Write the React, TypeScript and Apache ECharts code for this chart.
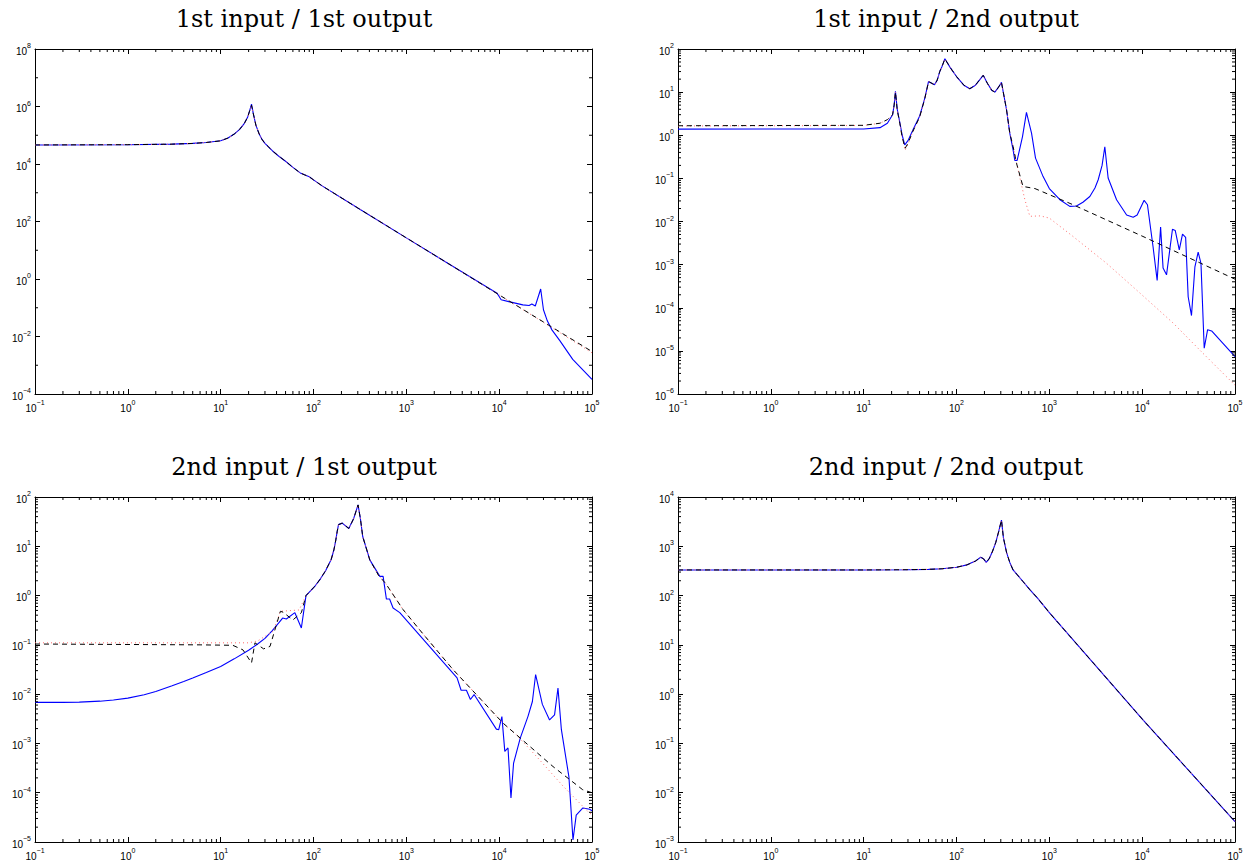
import React, { useEffect, useRef } from 'react';
import * as echarts from 'echarts';

// ---------- titles ----------
const titles = ['1st input / 1st output', '1st input / 2nd output', '2nd input / 1st output', '2nd input / 2nd output'];

// ---------- axis ranges ----------
const xRange = [0.1, 1e5];
const yRanges = [[1e-4, 1e8], [1e-6, 1e2], [1e-5, 1e2], [1e-3, 1e4]];
const yIntervals = [2, 1, 1, 1];

// ---------- panel 1: 1st input / 1st output ----------
const p1BlueF = [0.1, 1, 3, 5, 7, 10, 12, 14, 16, 18, 19.5, 20.5, 21.5, 22.5, 24, 26, 28, 30, 36, 42, 50, 60, 72, 80, 90, 100, 125, 300, 1000, 3000, 9500, 10500, 13000, 18000, 21000, 22500, 24500, 28000, 30000, 33000, 37000, 45000, 62000, 100000];
const p1BlueV = [4.6e4, 4.7e4, 4.9e4, 5.2e4, 5.6e4, 6.4e4, 8.0e4, 1.1e5, 1.6e5, 2.6e5, 4.2e5, 7.0e5, 1.2e6, 5.5e5, 2.2e5, 1.1e5, 7.0e4, 5.2e4, 2.9e4, 1.9e4, 1.25e4, 7.6e3, 4.9e3, 4.2e3, 3.6e3, 2.8e3, 1.7e3, 295, 27, 3.07, 0.32, 0.19, 0.16, 0.126, 0.12, 0.135, 0.115, 0.45, 0.085, 0.035, 0.017, 0.0072, 0.0016, 3.2e-4];
const p1BlackF = [0.1, 1, 3, 5, 7, 10, 12, 14, 16, 18, 19.5, 20.5, 21.5, 22.5, 24, 26, 28, 30, 36, 42, 50, 60, 72, 80, 90, 100, 125, 300, 1000, 3000, 10000, 30000, 100000];
const p1BlackV = [4.6e4, 4.7e4, 4.9e4, 5.2e4, 5.6e4, 6.4e4, 8.0e4, 1.1e5, 1.6e5, 2.6e5, 4.2e5, 7.0e5, 1.1e6, 5.5e5, 2.2e5, 1.1e5, 7.0e4, 5.2e4, 2.9e4, 1.9e4, 1.25e4, 7.6e3, 4.9e3, 4.2e3, 3.6e3, 2.8e3, 1.7e3, 295, 27, 3.07, 0.28, 0.032, 3.0e-3];
const p1RedF = [0.1, 1, 3, 5, 7, 10, 12, 14, 16, 18, 19.5, 20.5, 21.5, 22.5, 24, 26, 28, 30, 36, 42, 50, 60, 72, 80, 90, 100, 125, 300, 1000, 3000, 10000, 30000, 100000];
const p1RedV = [4.6e4, 4.7e4, 4.9e4, 5.2e4, 5.6e4, 6.4e4, 8.0e4, 1.1e5, 1.6e5, 2.6e5, 4.2e5, 7.0e5, 1.1e6, 5.5e5, 2.2e5, 1.1e5, 7.0e4, 5.2e4, 2.9e4, 1.9e4, 1.25e4, 7.6e3, 4.9e3, 4.2e3, 3.6e3, 2.8e3, 1.7e3, 295, 27, 3.07, 0.28, 0.031, 2.7e-3];

// ---------- panel 2: 1st input / 2nd output ----------
const p2BlueF = [0.1, 10, 15, 18, 20.5, 21.3, 22, 23, 24.5, 26, 27.7, 30, 34, 40, 45.5, 50, 58, 62, 66, 70, 75, 85, 100, 120, 139, 160, 180, 194, 215, 240, 259, 280, 305, 346, 375, 407, 425, 450, 514, 567, 643, 710, 857, 1000, 1300, 1660, 1960, 2300, 2730, 3100, 3360, 3700, 3960, 4300, 5300, 6800, 8000, 8830, 10500, 11400, 13100, 14500, 15800, 16800, 18300, 21200, 22700, 25100, 27200, 29400, 31300, 34000, 37000, 40100, 43000, 46600, 50700, 56000, 100000];
const p2BlueV = [1.39, 1.4, 1.5, 1.9, 3.0, 5.0, 10.4, 4.0, 2.0, 1.0, 0.6, 0.75, 1.34, 2.75, 7.2, 17.7, 14.8, 19, 30, 40, 59.6, 38, 23, 14.5, 12, 14.5, 20, 24.5, 16, 11, 10, 12.5, 16.8, 3.9, 1.12, 0.46, 0.26, 0.26, 0.93, 3.4, 1.12, 0.295, 0.11, 0.058, 0.032, 0.0224, 0.0229, 0.028, 0.038, 0.06, 0.093, 0.2, 0.54, 0.102, 0.032, 0.0141, 0.0126, 0.0141, 0.031, 0.0245, 0.0026, 4.3e-4, 0.0074, 8.3e-4, 5.8e-4, 0.0066, 0.0062, 0.0022, 0.0051, 0.0043, 1.8e-4, 6.6e-5, 8.9e-4, 0.00195, 0.00107, 1.15e-5, 3.1e-5, 2.9e-5, 7.4e-6];
const p2BlackF = [0.1, 10, 15, 18, 20.5, 21.3, 22, 23, 24.5, 26, 28, 30, 34, 40, 45.5, 50, 58, 62, 66, 70, 75, 85, 100, 120, 139, 160, 180, 194, 215, 240, 259, 280, 305, 346, 375, 407, 444, 520, 700, 1800, 10200, 100000];
const p2BlackV = [1.66, 1.7, 1.9, 2.3, 3.0, 5.0, 10, 3.8, 1.9, 0.9, 0.5, 0.65, 1.25, 2.6, 7.0, 17.5, 14.8, 19, 30, 40, 59, 38, 23, 14.5, 12, 14.5, 20, 24.5, 16, 11, 10, 12.5, 16.8, 3.9, 1.12, 0.55, 0.22, 0.065, 0.058, 0.0245, 4.5e-3, 4.6e-4];
const p2RedF = [0.1, 10, 15, 18, 20.5, 21.3, 22, 23, 24.5, 26, 28, 30, 34, 40, 45.5, 50, 58, 62, 66, 70, 75, 85, 100, 120, 139, 160, 180, 194, 215, 240, 259, 280, 305, 346, 375, 407, 460, 545, 617, 800, 1000, 1800, 4140, 9440, 21600, 45400, 100000];
const p2RedV = [1.64, 1.68, 1.9, 2.3, 3.0, 5.0, 10, 3.8, 1.9, 0.9, 0.45, 0.62, 1.25, 2.6, 7.0, 17.5, 14.8, 19, 30, 40, 59, 38, 23, 14.5, 12, 14.5, 20, 24.5, 16, 11, 10, 12.5, 16.8, 3.9, 1.12, 0.55, 0.16, 0.032, 0.0132, 0.0135, 0.012, 4.5e-3, 1.07e-3, 2.2e-4, 4.4e-5, 8.7e-6, 1.6e-6];

// ---------- panel 3: 2nd input / 1st output ----------
const p3BlueF = [0.1, 0.2, 0.3, 0.5, 0.7, 1, 1.5, 2, 3, 4, 5, 7, 10, 14, 20, 25, 30, 36, 42, 46.5, 51, 63, 74, 83, 95, 105, 117, 135, 155, 166, 174, 180, 186, 204, 240, 270, 302, 321, 339, 404, 518, 562, 610, 660, 720, 850, 3520, 3890, 4440, 4900, 5370, 9330, 9890, 10700, 11500, 12450, 13400, 14300, 16900, 20400, 22800, 24700, 29200, 34900, 39500, 43000, 46800, 56400, 62400, 67600, 79800, 94200, 100000];
const p3BlueV = [6.8e-3, 6.8e-3, 6.9e-3, 7.2e-3, 7.6e-3, 8.3e-3, 9.7e-3, 0.0113, 0.0148, 0.018, 0.0212, 0.0275, 0.0365, 0.052, 0.078, 0.104, 0.135, 0.195, 0.275, 0.35, 0.335, 0.45, 0.22, 1.0, 1.3, 1.6, 2.1, 3.2, 5.4, 8.5, 13.5, 20, 27.5, 29.5, 23, 36, 69, 35, 15.8, 5.3, 2.45, 2.45, 0.85, 0.85, 0.56, 0.45, 0.0214, 0.012, 0.012, 7.8e-3, 9.8e-3, 1.95e-3, 1.9e-3, 3.5e-3, 6.9e-4, 8.1e-4, 7.8e-5, 4.0e-4, 1.3e-3, 3.5e-3, 7.1e-3, 0.025, 6.2e-3, 3.0e-3, 3.8e-3, 0.0133, 1.9e-3, 2.1e-4, 1.1e-5, 3.5e-5, 4.9e-5, 4.6e-5, 4.3e-5];
const p3BlackF = [0.1, 6, 13.5, 17.4, 21.5, 23.4, 29, 34, 44, 47, 60, 74, 83, 95, 105, 117, 135, 155, 166, 174, 180, 186, 204, 240, 270, 302, 321, 339, 404, 500, 600, 922, 1500, 3180, 10960, 38000, 79400, 100000];
const p3BlackV = [0.104, 0.1, 0.098, 0.079, 0.043, 0.11, 0.083, 0.093, 0.48, 0.46, 0.32, 0.45, 1.0, 1.3, 1.6, 2.1, 3.2, 5.4, 8.5, 13.5, 20, 27.5, 29.5, 23, 36, 69, 35, 15.8, 5.3, 2.6, 1.75, 0.52, 0.17, 0.0316, 2.6e-3, 3.4e-4, 1.15e-4, 1.0e-4];
const p3RedF = [0.1, 20, 25, 37, 44, 70, 83, 95, 105, 117, 135, 155, 166, 174, 180, 186, 204, 240, 270, 302, 321, 339, 404, 500, 600, 922, 1500, 3180, 10960, 15300, 25100, 49000, 93300, 100000];
const p3RedV = [0.11, 0.11, 0.12, 0.19, 0.48, 0.51, 1.0, 1.3, 1.6, 2.1, 3.2, 5.4, 8.5, 13.5, 20, 27.5, 29.5, 23, 36, 69, 35, 15.8, 5.3, 2.6, 1.75, 0.52, 0.17, 0.0316, 2.6e-3, 1.5e-3, 5.5e-4, 1.35e-4, 3.9e-5, 3.6e-5];

// ---------- panel 4: 2nd input / 2nd output ----------
const p4BlueF = [0.1, 10, 30, 50, 70, 100, 130, 160, 182, 195, 209, 225, 245, 265, 285, 305, 320, 346, 375, 407, 450, 520, 616, 750, 1000, 10200, 100000];
const p4BlueV = [331, 331, 335, 340, 350, 375, 420, 500, 600, 560, 470, 560, 800, 1200, 2000, 3400, 1500, 750, 470, 331, 266, 193, 132, 88, 45, 0.3, 2.6e-3];
const p4BlackF = [0.1, 10, 30, 50, 70, 100, 130, 160, 182, 195, 209, 225, 245, 265, 285, 305, 320, 346, 375, 407, 450, 520, 616, 750, 1000, 10200, 100000];
const p4BlackV = [331, 331, 335, 340, 350, 375, 420, 500, 600, 560, 470, 560, 800, 1200, 2000, 3400, 1500, 750, 470, 331, 266, 193, 132, 88, 45, 0.3, 2.6e-3];
const p4RedF = [0.1, 10, 30, 50, 70, 100, 130, 160, 182, 195, 209, 225, 245, 265, 285, 305, 320, 346, 375, 407, 450, 520, 616, 750, 1000, 10200, 100000];
const p4RedV = [331, 331, 335, 340, 350, 375, 420, 500, 600, 560, 470, 560, 800, 1200, 2000, 3400, 1500, 750, 470, 331, 266, 193, 132, 88, 45, 0.3, 2.6e-3];

const panels = [
  { blue: [p1BlueF, p1BlueV], black: [p1BlackF, p1BlackV], red: [p1RedF, p1RedV] },
  { blue: [p2BlueF, p2BlueV], black: [p2BlackF, p2BlackV], red: [p2RedF, p2RedV] },
  { blue: [p3BlueF, p3BlueV], black: [p3BlackF, p3BlackV], red: [p3RedF, p3RedV] },
  { blue: [p4BlueF, p4BlueV], black: [p4BlackF, p4BlackV], red: [p4RedF, p4RedV] },
];

// ---------- layout ----------
const gridBoxes = [
  { left: 35, top: 49, width: 557, height: 345 },
  { left: 678, top: 49, width: 557, height: 345 },
  { left: 35, top: 497, width: 557, height: 345 },
  { left: 678, top: 497, width: 557, height: 345 },
];
const titlePos = [[304, 19], [946, 19], [304, 467], [946, 467]];

const pairs = (f: number[], v: number[]) => f.map((x, i) => [x, v[i]]);

const labelFmt = (v: number) => {
  const e = Math.round(Math.log10(v));
  return `{b|10}{e|${e < 0 ? '\u2212' + -e : e}}`;
};
const rich = {
  b: { fontSize: 10, fontFamily: 'Liberation Sans, Arial, sans-serif', color: '#000', lineHeight: 14, verticalAlign: 'bottom' },
  e: { fontSize: 7, fontFamily: 'Liberation Sans, Arial, sans-serif', color: '#000', lineHeight: 8, verticalAlign: 'top' },
};

function decadeMinors(lo: number, hi: number) {
  const out: number[] = [];
  for (let d = lo; d < hi; d++) for (let m = 2; m <= 9; m++) out.push(m * Math.pow(10, d));
  return out;
}

export default function App() {
  const ref = useRef<HTMLDivElement>(null);
  useEffect(() => {
    if (!ref.current) return;
    const chart = echarts.init(ref.current, null, { renderer: 'svg' });
    const grid: any[] = [];
    const xAxis: any[] = [];
    const yAxis: any[] = [];
    const series: any[] = [];
    const graphic: any[] = [];
    const lineCol = '#000';
    for (let g = 0; g < 4; g++) {
      grid.push({ ...gridBoxes[g], containLabel: false });
      const [ymin, ymax] = yRanges[g];
      const [xmin, xmax] = xRange;
      const xBase = {
        type: 'log', logBase: 10, min: xmin, max: xmax, interval: 1, gridIndex: g,
        splitLine: { show: false },
        axisLine: { show: true, onZero: false, lineStyle: { color: lineCol, width: 1 } },
        axisTick: { show: true, inside: true, length: 5, lineStyle: { color: lineCol, width: 1 } },
      };
      xAxis.push({ ...xBase, position: 'bottom', axisLabel: { show: true, formatter: labelFmt, rich, margin: 5 } });
      xAxis.push({ ...xBase, position: 'top', axisLabel: { show: false } });
      const yBase = {
        type: 'log', logBase: 10, min: ymin, max: ymax, interval: yIntervals[g], gridIndex: g,
        splitLine: { show: false },
        axisLine: { show: true, onZero: false, lineStyle: { color: lineCol, width: 1 } },
        axisTick: { show: true, inside: true, length: 5, lineStyle: { color: lineCol, width: 1 } },
      };
      yAxis.push({ ...yBase, position: 'left', axisLabel: { show: true, formatter: labelFmt, rich, margin: 4 } });
      yAxis.push({ ...yBase, position: 'right', axisLabel: { show: false } });

      const p = panels[g];
      series.push({
        type: 'line', xAxisIndex: 2 * g, yAxisIndex: 2 * g, data: pairs(p.blue[0], p.blue[1]),
        showSymbol: false, symbol: 'none', lineStyle: { color: '#0000ff', width: 1.1 }, z: 2,
      });
      series.push({
        type: 'line', xAxisIndex: 2 * g, yAxisIndex: 2 * g, data: pairs(p.red[0], p.red[1]),
        showSymbol: false, symbol: 'none', lineStyle: { color: '#ff6a6a', width: 1, type: [1, 3] }, z: 3,
      });
      series.push({
        type: 'line', xAxisIndex: 2 * g, yAxisIndex: 2 * g, data: pairs(p.black[0], p.black[1]),
        showSymbol: false, symbol: 'none', lineStyle: { color: '#000000', width: 1, type: [5, 4] }, z: 4,
      });

      // minor ticks
      const lx = Math.round(Math.log10(xmin));
      const hx = Math.round(Math.log10(xmax));
      const ly = Math.round(Math.log10(ymin));
      const hy = Math.round(Math.log10(ymax));
      const xm = decadeMinors(lx, hx);
      let ym: number[];
      if (yIntervals[g] === 2) {
        ym = [];
        for (let d = ly + 1; d < hy; d += 2) ym.push(Math.pow(10, d));
      } else ym = decadeMinors(ly, hy);
      const tickData = [...xm.map((v) => [v, ymin, 0]), ...ym.map((v) => [xmin, v, 1])];
      series.push({
        type: 'custom', xAxisIndex: 2 * g, yAxisIndex: 2 * g, silent: true, clip: false, z: 5,
        data: tickData, encode: { x: 0, y: 1 },
        renderItem: (params: any, api: any) => {
          const kind = api.value(2);
          const L = 3;
          const style = { stroke: '#000', lineWidth: 1 };
          if (kind === 0) {
            const v = api.value(0);
            const a = api.coord([v, ymin]);
            const b = api.coord([v, ymax]);
            return {
              type: 'group', children: [
                { type: 'line', shape: { x1: a[0], y1: a[1], x2: a[0], y2: a[1] - L }, style },
                { type: 'line', shape: { x1: b[0], y1: b[1], x2: b[0], y2: b[1] + L }, style },
              ],
            };
          }
          const v = api.value(1);
          const a = api.coord([xmin, v]);
          const b = api.coord([xmax, v]);
          return {
            type: 'group', children: [
              { type: 'line', shape: { x1: a[0], y1: a[1], x2: a[0] + L, y2: a[1] }, style },
              { type: 'line', shape: { x1: b[0], y1: b[1], x2: b[0] - L, y2: b[1] }, style },
            ],
          };
        },
      });

      graphic.push({
        type: 'text', x: titlePos[g][0], y: titlePos[g][1],
        style: {
          text: titles[g], fill: '#000', font: '24px "DejaVu Serif", serif',
          align: 'center', verticalAlign: 'middle', textAlign: 'center', textVerticalAlign: 'middle',
        },
      });
    }

    chart.setOption({
      animation: false,
      backgroundColor: '#ffffff',
      grid, xAxis, yAxis, series, graphic,
    });
    return () => chart.dispose();
  }, []);
  return <div ref={ref} style={{ position: 'absolute', left: 0, top: 0, width: 1258, height: 861, background: '#fff' }} />;
}
